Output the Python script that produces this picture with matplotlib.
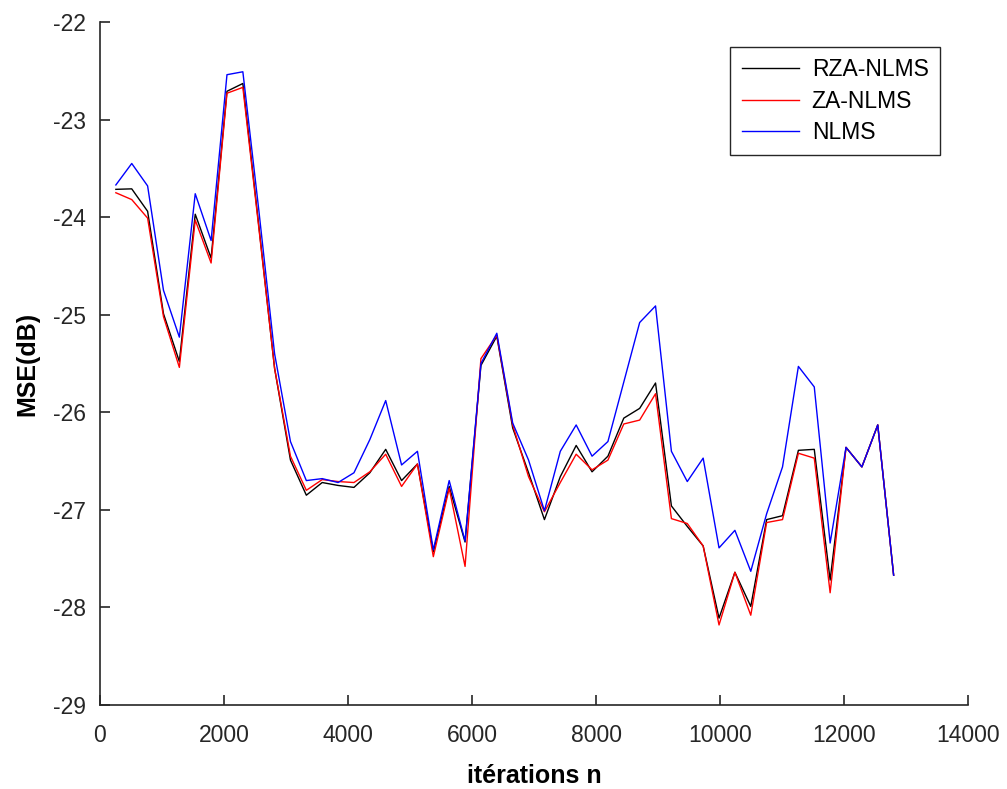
import matplotlib.pyplot as plt

plt.rcParams['font.family'] = ['Liberation Sans', 'DejaVu Sans']
plt.rcParams['axes.unicode_minus'] = False

# Données
iterations = [256, 512, 768, 1024, 1280, 1536, 1792, 2048, 2304, 2560,
              2816, 3072, 3328, 3584, 3840, 4096, 4352, 4608, 4864, 5120,
              5376, 5632, 5888, 6144, 6400, 6656, 6912, 7168, 7424, 7680,
              7936, 8192, 8448, 8704, 8960, 9216, 9472, 9728, 9984, 10240,
              10496, 10752, 11008, 11264, 11520, 11776, 12032, 12288, 12544, 12800]

rza_nlms = [-23.715, -23.71, -23.94, -24.99, -25.48, -23.97, -24.42, -22.71, -22.63, -24.08,
            -25.55, -26.49, -26.85, -26.72, -26.75, -26.77, -26.62, -26.38, -26.70, -26.53,
            -27.43, -26.76, -27.33, -25.52, -25.22, -26.16, -26.62, -27.10, -26.66, -26.34,
            -26.61, -26.45, -26.06, -25.96, -25.70, -26.96, -27.17, -27.37, -28.11, -27.64,
            -27.99, -27.10, -27.06, -26.39, -26.38, -27.72, -26.36, -26.56, -26.13, -27.67]

za_nlms = [-23.75, -23.82, -24.01, -25.02, -25.54, -24.03, -24.47, -22.73, -22.67, -24.10,
           -25.55, -26.45, -26.80, -26.69, -26.71, -26.72, -26.61, -26.43, -26.76, -26.53,
           -27.48, -26.78, -27.58, -25.45, -25.21, -26.13, -26.66, -27.02, -26.72, -26.43,
           -26.59, -26.49, -26.12, -26.08, -25.81, -27.09, -27.14, -27.37, -28.18, -27.64,
           -28.08, -27.13, -27.10, -26.42, -26.47, -27.85, -26.36, -26.56, -26.13, -27.67]

nlms = [-23.67, -23.45, -23.68, -24.75, -25.23, -23.76, -24.24, -22.54, -22.51, -23.92,
        -25.40, -26.30, -26.70, -26.68, -26.72, -26.62, -26.28, -25.88, -26.54, -26.40,
        -27.41, -26.70, -27.32, -25.50, -25.19, -26.11, -26.49, -27.01, -26.40, -26.13,
        -26.45, -26.30, -25.69, -25.08, -24.91, -26.40, -26.71, -26.47, -27.39, -27.21,
        -27.63, -27.04, -26.56, -25.53, -25.74, -27.34, -26.36, -26.56, -26.13, -27.67]

fig = plt.figure(figsize=(10.07, 7.89), dpi=100)
ax = fig.add_axes([0.0993, 0.1065, 0.862, 0.8656])

ax.plot(iterations, rza_nlms, color='k', lw=1.0, label='RZA-NLMS')
ax.plot(iterations, za_nlms, color='#ff0000', lw=1.0, label='ZA-NLMS')
ax.plot(iterations, nlms, color='#0000ff', lw=1.0, label='NLMS')

ax.set_xlim(0, 14000)
ax.set_ylim(-29, -22)
ax.set_xticks(range(0, 14001, 2000))
ax.set_yticks(range(-29, -21))

# style MATLAB : box off, ticks vers l'intérieur
ax.spines['top'].set_visible(False)
ax.spines['right'].set_visible(False)
for s in ['left', 'bottom']:
    ax.spines[s].set_linewidth(1.2)
    ax.spines[s].set_color('#262626')
ax.tick_params(direction='in', length=7, width=1.2, colors='#262626',
               labelsize=16.5, labelcolor='#262626')
ax.tick_params(axis='x', pad=14)
ax.tick_params(axis='y', pad=10)

ax.set_xlabel('itérations n', fontweight='bold', fontsize=18, labelpad=12)
ax.set_ylabel('MSE(dB)', fontweight='bold', fontsize=18, labelpad=10)

leg = ax.legend(loc='upper right', bbox_to_anchor=(0.9677, 0.9634), borderaxespad=0,
                fontsize=16.5, fancybox=False, framealpha=1, edgecolor='#262626',
                handlelength=2.5, handletextpad=0.55, labelspacing=0.36, borderpad=0.5)
leg.get_frame().set_linewidth(1.0)

fig.savefig('out.png', dpi=100)
